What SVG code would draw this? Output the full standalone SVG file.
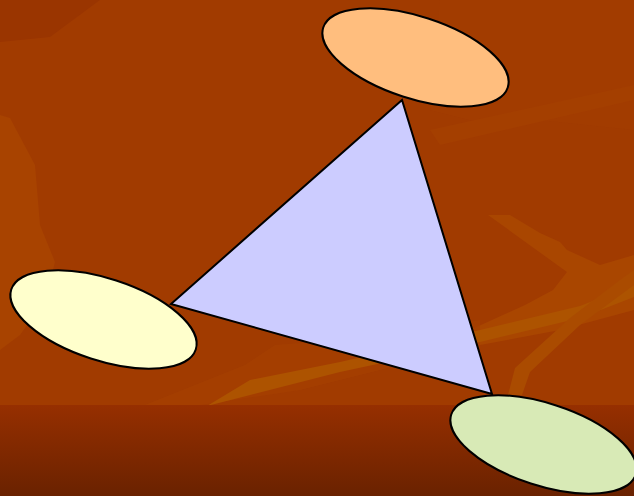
<svg xmlns="http://www.w3.org/2000/svg" width="634" height="496" viewBox="0 0 634 496">
<defs>
<linearGradient id="bottomGrad" x1="0" y1="0" x2="0" y2="1">
<stop offset="0" stop-color="#962F00"/>
<stop offset="1" stop-color="#6A2200"/>
</linearGradient>
</defs>
<style>
.node{stroke:#000;stroke-width:2}
</style>
<g id="background">
<rect x="0" y="0" width="634" height="496" fill="#A13B00"/>
<polygon points="0,0 100,0 50,37 0,42" fill="#9A3500"/>
<polygon points="440,0 634,0 634,130 540,120 470,120 430,110" fill="#A43E00" opacity="0.5"/>
<polygon points="0,115 10,118 35,165 40,225 55,262 45,300 20,335 0,350" fill="#A84300"/>
<polygon points="430,130 634,85 634,100 440,145" fill="#A43F00"/>
<polygon points="488,215 510,215 540,233 560,242 567,250 600,265 634,255 634,310 560,330 480,345 470,330 525,305 553,290 567,272" fill="#A94600"/>
<polygon points="145,405 245,365 275,345 340,340 480,320 480,345 300,390 200,405" fill="#A54000" opacity="0.7"/>
<polygon points="207,406 250,380 340,362 480,330 580,306 634,285 634,297 580,318 480,342 340,372" fill="#AD5300"/>
<polygon points="620,280 634,270 634,285 580,325 530,372 522,395 508,395 515,368 570,318" fill="#AA4B00"/>
<rect x="0" y="405" width="634" height="91" fill="url(#bottomGrad)"/>
</g>
<g id="connectors"></g>
<g id="triangle">
<polygon class="node" points="402,100 171,304 492,394" fill="#CCCCFF"/>
</g>
<g id="ellipse-top">
<ellipse class="node" cx="415.5" cy="57.5" rx="97" ry="41" transform="rotate(18 415.5 57.5)" fill="#FFBE7E"/>
</g>
<g id="ellipse-left">
<ellipse class="node" cx="103.5" cy="319.5" rx="97" ry="41" transform="rotate(18 103.5 319.5)" fill="#FFFFCC"/>
</g>
<g id="ellipse-bottom">
<ellipse class="node" cx="543.5" cy="444.5" rx="97" ry="41" transform="rotate(18 543.5 444.5)" fill="#D8EAB6"/>
</g>
</svg>
